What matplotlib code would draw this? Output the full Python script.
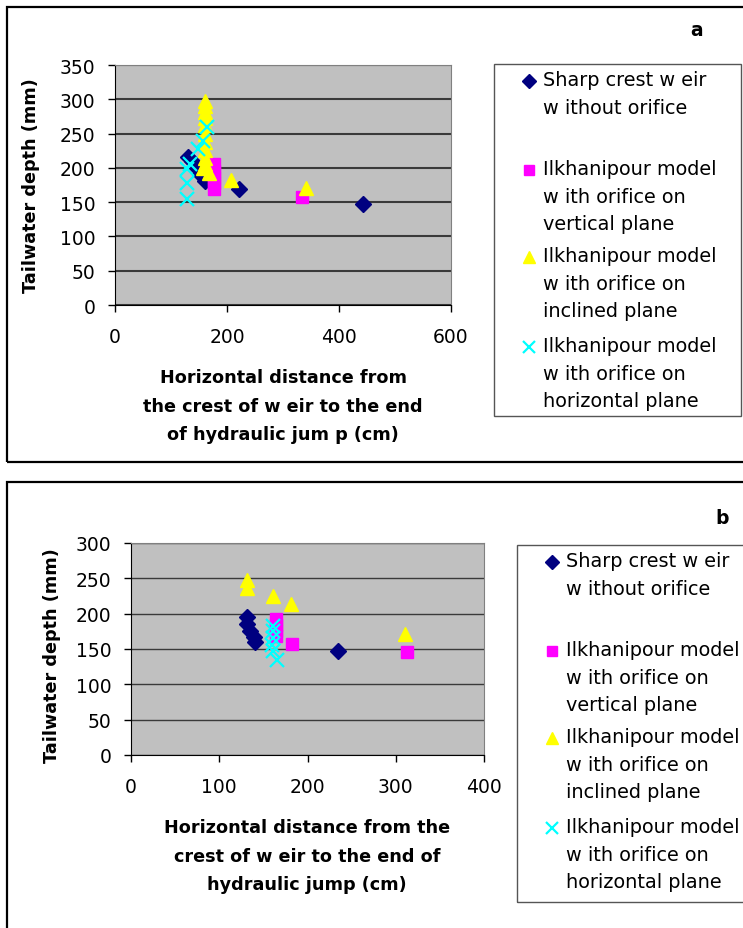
import matplotlib.pyplot as plt
from matplotlib.patches import Rectangle
from matplotlib.lines import Line2D

plt.rcParams['font.family'] = ['DejaVu Sans']

# panel a data (x in cm, y in mm)
sharp_a_x = [131, 137, 143, 152, 161, 222, 443]
sharp_a_y = [216, 210, 203, 191, 181, 169, 147]
vert_a_x = [177, 177, 177, 177, 177, 334]
vert_a_y = [205, 196, 187, 178, 169, 157]
incl_a_x = [161, 161, 161, 161, 161, 161, 161, 161, 161, 161, 158, 167, 208, 341]
incl_a_y = [297, 290, 282, 273, 262, 250, 238, 226, 215, 205, 200, 193, 183, 171]
horz_a_x = [128, 128, 128, 134, 149, 158, 164]
horz_a_y = [155, 178, 198, 205, 227, 239, 259]

# panel b data
sharp_b_x = [131, 131, 135, 139, 141, 235]
sharp_b_y = [195, 185, 175, 167, 160, 147]
vert_b_x = [164, 164, 164, 164, 182, 313]
vert_b_y = [192, 184, 176, 168, 157, 146]
incl_b_x = [131, 131, 161, 181, 310]
incl_b_y = [247, 237, 225, 214, 171]
horz_b_x = [161, 161, 161, 160, 161, 165]
horz_b_y = [183, 175, 165, 155, 147, 135]

labels = ['Sharp crest w eir\nw ithout orifice',
          'Ilkhanipour model\nw ith orifice on\nvertical plane',
          'Ilkhanipour model\nw ith orifice on\ninclined plane',
          'Ilkhanipour model\nw ith orifice on\nhorizontal plane']

W, H = 743, 929
fig = plt.figure(figsize=(W / 100, H / 100), dpi=100)

styles = [dict(marker='D', color='#000080', ms=8.5),
          dict(marker='s', color='#FF00FF', ms=8.5),
          dict(marker='^', color='#FFFF00', ms=10.5),
          dict(marker='x', color='#00FFFF', ms=10, mew=1.6)]


def px_axes(x0, y0, x1, y1):
    return fig.add_axes([x0 / W, 1 - y1 / H, (x1 - x0) / W, (y1 - y0) / H])


def panel(ax, series, xmax, ymax, ystep, xstep, grid_lw, pad_y):
    for (xs, ys), st in zip(series, styles):
        ax.plot(xs, ys, linestyle='none', **st)
    ax.set_xlim(0, xmax)
    ax.set_ylim(0, ymax)
    ax.set_xticks(range(0, xmax + 1, xstep))
    ax.set_yticks(range(0, ymax + 1, ystep))
    ax.set_facecolor('#C0C0C0')
    ax.set_axisbelow(True)
    ax.yaxis.grid(True, color='#3a3a3a', lw=grid_lw)
    for s in ['top', 'right']:
        ax.spines[s].set_color('#808080')
    for s in ['left', 'bottom']:
        ax.spines[s].set_color('#000000')
    ax.tick_params(axis='both', labelsize=13.5, length=5, width=1)
    ax.tick_params(axis='y', pad=pad_y)
    ax.tick_params(axis='x', pad=11)


def legend(x0, y0, x1, y1):
    fig.add_artist(Rectangle((x0 / W, 1 - y1 / H), (x1 - x0) / W, (y1 - y0) / H,
                             transform=fig.transFigure, fill=False,
                             edgecolor='#555555', lw=1))
    ys = [y0 + 17, y0 + 106, y0 + 193, y0 + 283]
    for y, lab, st in zip(ys, labels, styles):
        st = dict(st)
        st['ms'] = st['ms'] * 0.85
        fig.add_artist(Line2D([(x0 + 35) / W], [1 - y / H], linestyle='none',
                              transform=fig.transFigure, **st))
        fig.text((x0 + 49) / W, 1 - (y - 11) / H, lab, fontsize=13.9,
                 va='top', ha='left', linespacing=1.58)


# outer panel borders
fig.add_artist(Rectangle((7 / W, 1 - 463 / H), 745 / W, 455 / H,
                         transform=fig.transFigure, fill=False, edgecolor='black', lw=1.6))
fig.add_artist(Rectangle((7 / W, 1 - 940 / H), 745 / W, 457 / H,
                         transform=fig.transFigure, fill=False, edgecolor='black', lw=1.6))

# panel a
ax1 = px_axes(115, 66, 451, 306)
panel(ax1, [(sharp_a_x, sharp_a_y), (vert_a_x, vert_a_y),
            (incl_a_x, incl_a_y), (horz_a_x, horz_a_y)],
      600, 350, 50, 200, 1.5, 9)
fig.text(283 / W, 1 - 369 / H,
         'Horizontal distance from\nthe crest of w eir to the end\nof hydraulic jum p (cm)',
         ha='center', va='top', fontsize=12.7, fontweight='bold', linespacing=1.76)
fig.text(31 / W, 1 - 186 / H, 'Tailwater depth (mm)', rotation=90,
         ha='center', va='center', fontsize=12.7, fontweight='bold')
fig.text(697 / W, 1 - 31 / H, 'a', ha='center', va='center', fontsize=13.5, fontweight='bold')
legend(494, 65, 741, 417)

# panel b
ax2 = px_axes(131, 544, 484, 756)
panel(ax2, [(sharp_b_x, sharp_b_y), (vert_b_x, vert_b_y),
            (incl_b_x, incl_b_y), (horz_b_x, horz_b_y)],
      400, 300, 50, 100, 1.0, 9)
fig.text(307 / W, 1 - 819 / H,
         'Horizontal distance from the\ncrest of w eir to the end of\nhydraulic jump (cm)',
         ha='center', va='top', fontsize=12.7, fontweight='bold', linespacing=1.76)
fig.text(52 / W, 1 - 656 / H, 'Tailwater depth (mm)', rotation=90,
         ha='center', va='center', fontsize=12.7, fontweight='bold')
fig.text(722 / W, 1 - 518 / H, 'b', ha='center', va='center', fontsize=13.5, fontweight='bold')
legend(517, 546, 745, 903)

fig.savefig('out.png', dpi=100)
